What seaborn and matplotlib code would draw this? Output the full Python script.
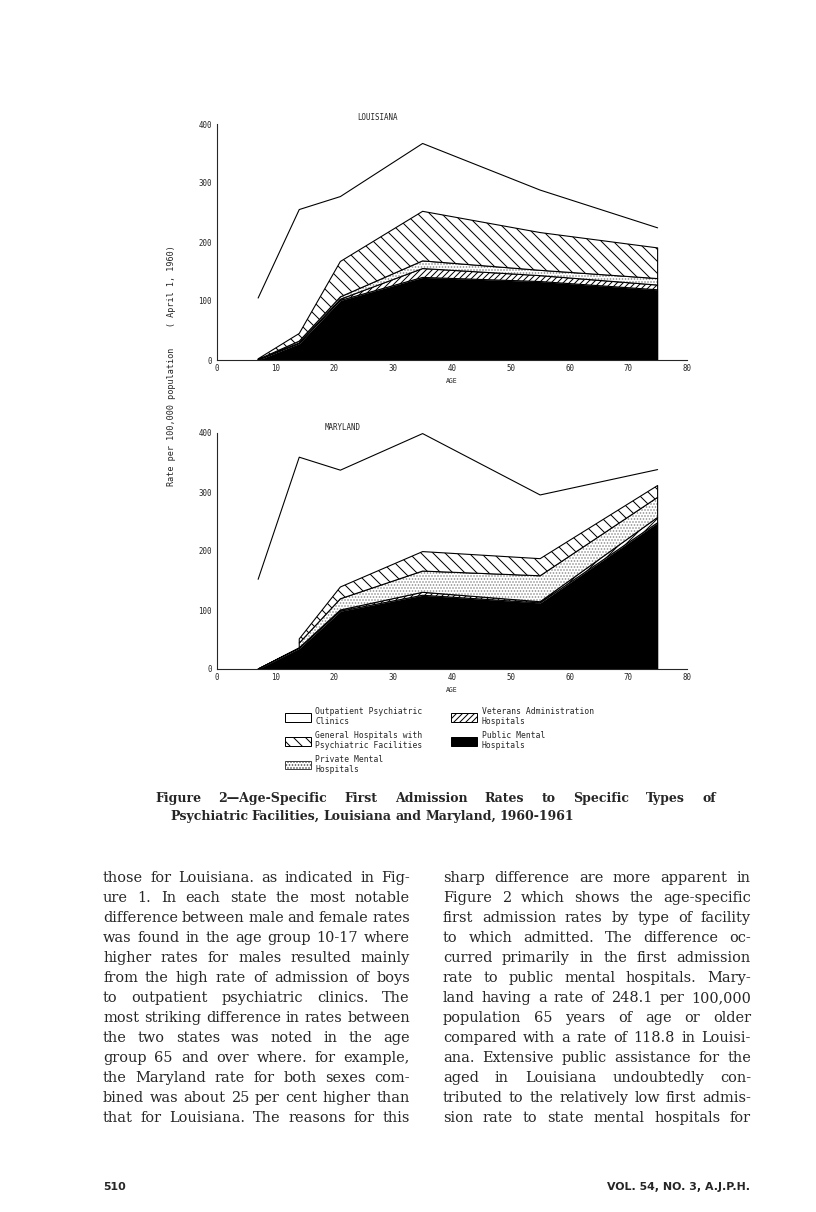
import numpy as np
import matplotlib
matplotlib.use('Agg')
import matplotlib.pyplot as plt
from matplotlib.patches import Patch
import seaborn as sns

W, H = 816, 1212

ages = [7, 14, 21, 35, 55, 75]

# Louisiana: rate per 100,000 by type of facility (thickness of each layer)
la_public = [0, 28, 101, 140, 133, 119]
la_veterans = [0.5, 1, 2, 15, 10, 8]
la_private = [0.5, 3, 4, 13, 9, 11]
la_general = [1, 13, 60, 84, 64, 52]
la_outpatient = [103, 210, 110, 115, 72, 34]

# Maryland (no general / private band under age 10)
md_public = [0, 35, 98, 125, 112, 248]
md_veterans = [0, 1, 2, 5, 2, 9]
md_private = [np.nan, 8, 19, 36, 44, 34]
md_general = [np.nan, 7, 20, 33, 29, 20]
md_outpatient = [152, 308, 198, 200, 108, 27]

x_ticks = [0, 10, 20, 30, 40, 50, 60, 70, 80]
y_ticks = [0, 100, 200, 300, 400]

legend_labels = ['Outpatient Psychiatric\nClinics',
                 'General Hospitals with\nPsychiatric Facilities',
                 'Private Mental\nHospitals',
                 'Veterans Administration\nHospitals',
                 'Public Mental\nHospitals']

caption = ['Figure 2\u2014Age-Specific First Admission Rates to Specific Types of',
           'Psychiatric Facilities, Louisiana and Maryland, 1960-1961']

left_col = ['those for Louisiana. as indicated in Fig-',
            'ure 1. In each state the most notable',
            'difference between male and female rates',
            'was found in the age group 10-17 where',
            'higher rates for males resulted mainly',
            'from the high rate of admission of boys',
            'to outpatient psychiatric clinics. The',
            'most striking difference in rates between',
            'the two states was noted in the age',
            'group 65 and over where. for example,',
            'the Maryland rate for both sexes com-',
            'bined was about 25 per cent higher than',
            'that for Louisiana. The reasons for this']

right_col = ['sharp difference are more apparent in',
             'Figure 2 which shows the age-specific',
             'first admission rates by type of facility',
             'to which admitted. The difference oc-',
             'curred primarily in the first admission',
             'rate to public mental hospitals. Mary-',
             'land having a rate of 248.1 per 100,000',
             'population 65 years of age or older',
             'compared with a rate of 118.8 in Louisi-',
             'ana. Extensive public assistance for the',
             'aged in Louisiana undoubtedly con-',
             'tributed to the relatively low first admis-',
             'sion rate to state mental hospitals for']

sns.set_style('white')
plt.rcParams['font.family'] = ['DejaVu Sans Mono']
plt.rcParams['hatch.linewidth'] = 1.0

# order of stacking: bottom to top (hatch, hatch colour, face colour)
styles = [(None, 'black', 'black'),
          ('////', 'black', 'white'),
          ('....', '#8a8a8a', 'white'),
          ('\\\\', 'black', 'white'),
          (None, None, None)]

fig = plt.figure(figsize=(W / 72, H / 72), dpi=72)


def px(x, y):
    return x / W, 1 - y / H


def draw_state(ax, layers):
    x = np.asarray(ages, float)
    base = np.zeros_like(x)
    for vals, (hatch, hcol, fcol) in zip(layers, styles):
        v = np.asarray(vals, float)
        shown = ~np.isnan(v)
        top = base + np.nan_to_num(v)
        if fcol is None:
            ax.plot(x, top, color='black', lw=1.1)
        else:
            ax.fill_between(x, base, top, where=shown, facecolor=fcol,
                            edgecolor=hcol, hatch=hatch, linewidth=0)
            ax.fill_between(x, base, top, where=shown, facecolor='none',
                            edgecolor='black', linewidth=1.1)
        base = top
    ax.set_xlim(0, 80)
    ax.set_ylim(0, 400)
    ax.set_xticks(x_ticks)
    ax.set_yticks(y_ticks)
    ax.set_xticks([80], minor=True)
    ax.set_yticks([400], minor=True)
    sns.despine(ax=ax)
    ax.spines['left'].set_linewidth(1.1)
    ax.spines['bottom'].set_linewidth(1.1)
    ax.tick_params(axis='x', which='major', length=0, pad=4, labelsize=7.5)
    ax.tick_params(axis='y', which='major', length=3, width=1, pad=2,
                   labelsize=7.5, direction='out')
    ax.tick_params(which='minor', direction='in', length=6, width=1.1)
    ax.set_xlabel('AGE', fontsize=6.5, labelpad=5)


la_ax = fig.add_axes([217 / W, 1 - 360 / H, 470 / W, 236 / H])
draw_state(la_ax, [la_public, la_veterans, la_private, la_general, la_outpatient])
md_ax = fig.add_axes([217 / W, 1 - 669 / H, 470 / W, 236 / H])
draw_state(md_ax, [md_public, md_veterans, md_private, md_general, md_outpatient])

fig.text(*px(377, 117), 'LOUISIANA', ha='center', va='center', fontsize=7.5)
fig.text(*px(343, 427), 'MARYLAND', ha='center', va='center', fontsize=7.5)
fig.text(*px(172, 366), 'Rate per 100,000 population    ( April 1, 1960)',
         rotation=90, ha='center', va='center', fontsize=8.5)

handles = [Patch(facecolor='white', edgecolor='black', lw=1),
           Patch(facecolor='white', edgecolor='black', hatch='\\\\', lw=1),
           Patch(facecolor='white', edgecolor='#444444', hatch='....', lw=1),
           Patch(facecolor='white', edgecolor='black', hatch='////', lw=1),
           Patch(facecolor='black', edgecolor='black', lw=1)]
fig.legend(handles, legend_labels, ncol=2, loc='upper left',
           bbox_to_anchor=px(285, 707), frameon=False,
           prop={'family': 'DejaVu Sans Mono', 'size': 8},
           handlelength=3.2, handleheight=1.3, handletextpad=0.6,
           labelspacing=0.55, columnspacing=3.6, borderpad=0, borderaxespad=0)

renderer = fig.canvas.get_renderer()


def justified(line, x0, x1, y, last=False, **kw):
    words = line.split()
    texts = [fig.text(0, 0, w, va='baseline', ha='left', **kw) for w in words]
    widths = [t.get_window_extent(renderer).width for t in texts]
    min_gap = 0.22 * kw.get('fontsize', 10)
    if last or len(words) < 2:
        gap = 0.3 * kw.get('fontsize', 10)
    else:
        gap = max(min_gap, (x1 - x0 - sum(widths)) / (len(words) - 1))
    xx = x0
    for t, w in zip(texts, widths):
        t.set_position(px(xx, y))
        xx += w + gap


cap_kw = dict(family='DejaVu Serif', fontweight='bold', fontsize=12.5)
justified(caption[0], 155, 716, 802, **cap_kw)
justified(caption[1], 170, 716, 820, last=True, **cap_kw)

body_kw = dict(family='DejaVu Serif', fontsize=14.5)
for i, line in enumerate(left_col):
    justified(line, 103, 410, 882 + 20 * i, **body_kw)
for i, line in enumerate(right_col):
    justified(line, 443, 751, 882 + 20 * i, **body_kw)

fig.text(*px(103, 1190), '510', family='DejaVu Sans', fontweight='bold',
         fontsize=11, va='baseline', ha='left')
fig.text(*px(750, 1190), 'VOL. 54, NO. 3, A.J.P.H.', family='DejaVu Sans',
         fontweight='bold', fontsize=11, va='baseline', ha='right')

fig.savefig('out.png', dpi=72, facecolor='white')
